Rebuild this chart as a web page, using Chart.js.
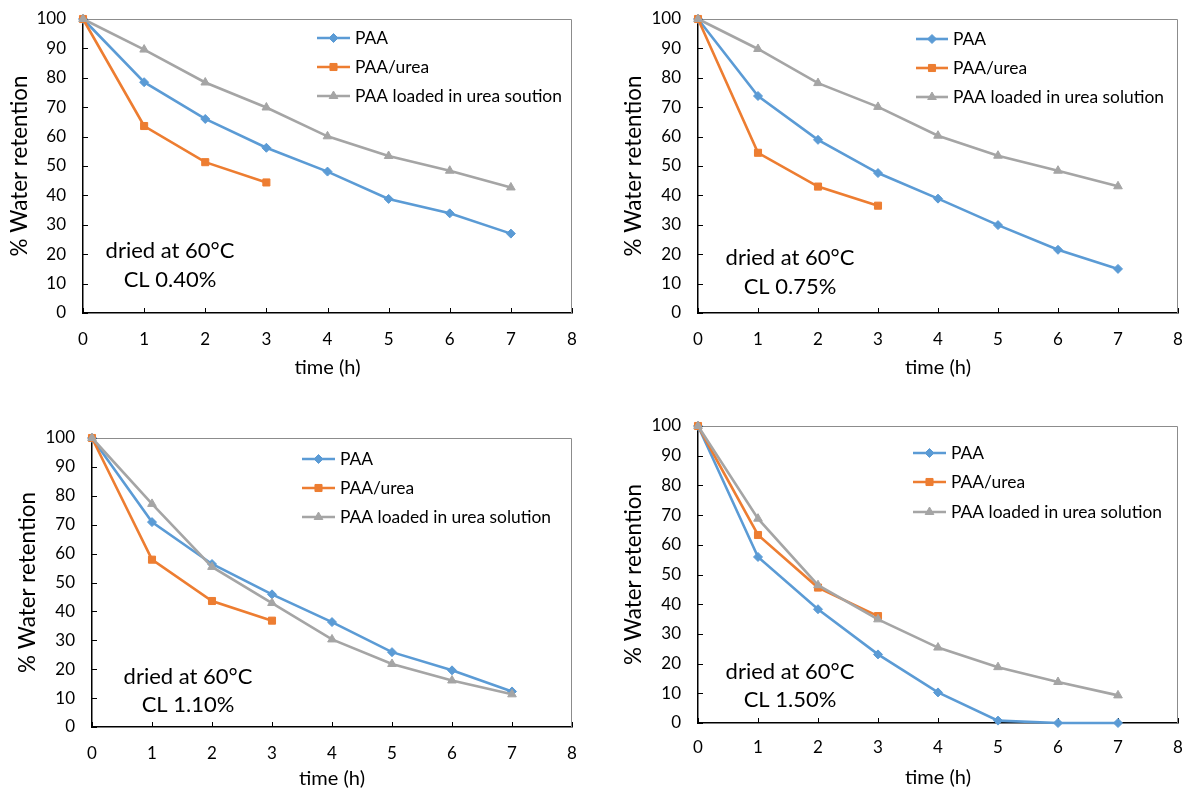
<!DOCTYPE html>
<html>
<head>
<meta charset="utf-8">
<script src="https://cdn.jsdelivr.net/npm/chart.js@4.4.0/dist/chart.umd.min.js"></script>
<style>
  body { margin: 0; background: #fff; width: 1184px; height: 791px; overflow: hidden; position: relative; }
  .box { position: absolute; }
</style>
</head>
<body>
<div class="box" style="left:0;top:0;width:590px;height:390px"><canvas id="c040"></canvas></div>
<div class="box" style="left:592px;top:0;width:592px;height:390px"><canvas id="c075"></canvas></div>
<div class="box" style="left:0;top:400px;width:590px;height:391px"><canvas id="c110"></canvas></div>
<div class="box" style="left:592px;top:400px;width:592px;height:391px"><canvas id="c150"></canvas></div>
<script>
// time axis (h)
var hours = [0, 1, 2, 3, 4, 5, 6, 7];
var ureaHours = [0, 1, 2, 3];

// CL 0.40%
var paa040 = [100, 78.5, 66, 56.2, 48.1, 38.8, 33.9, 27];
var urea040 = [100, 63.6, 51.3, 44.4];
var loaded040 = [100, 89.6, 78.4, 69.9, 60.1, 53.4, 48.4, 42.7];

// CL 0.75%
var paa075 = [100, 73.8, 58.9, 47.6, 38.9, 29.9, 21.5, 15];
var urea075 = [100, 54.5, 43, 36.5];
var loaded075 = [100, 89.8, 78.2, 70.1, 60.3, 53.5, 48.4, 43.1];

// CL 1.10%
var paa110 = [100, 70.9, 56.4, 45.9, 36.3, 25.9, 19.6, 12.3];
var urea110 = [100, 57.9, 43.6, 36.8];
var loaded110 = [100, 77.2, 55.4, 42.9, 30.3, 21.8, 16.1, 11.3];

// CL 1.50%
var paa150 = [100, 55.9, 38.3, 23.1, 10.3, 0.8, 0, 0];
var urea150 = [100, 63.3, 45.6, 36];
var loaded150 = [100, 68.8, 46.4, 34.9, 25.4, 18.8, 13.8, 9.3];

var seriesNames = ['PAA', 'PAA/urea', 'PAA loaded in urea solution'];
var seriesNamesTypo = ['PAA', 'PAA/urea', 'PAA loaded in urea soution'];

var FONT = 'Lato, "Open Sans", sans-serif';
Chart.defaults.font.family = FONT;
Chart.defaults.color = '#000';

function toPoints(xs, ys) {
    return ys.map(function(v, i) { return { x: xs[i], y: v }; });
}

// frame: thin gray top/right border plus inward tick marks
var framePlugin = {
    id: 'frame',
    beforeDatasetsDraw: function(chart) {
        var ctx = chart.ctx, a = chart.chartArea;
        var x = chart.scales.x, y = chart.scales.y;
        ctx.save();
        ctx.strokeStyle = '#8c8c8c';
        ctx.lineWidth = 1;
        ctx.beginPath();
        ctx.moveTo(a.left, a.top + 0.5);
        ctx.lineTo(a.right - 0.5, a.top + 0.5);
        ctx.lineTo(a.right - 0.5, a.bottom);
        ctx.stroke();
        ctx.strokeStyle = '#000';
        ctx.beginPath();
        x.ticks.forEach(function(t) {
            var px = Math.round(x.getPixelForValue(t.value)) + 0.5;
            ctx.moveTo(px, a.bottom);
            ctx.lineTo(px, a.bottom - 5);
        });
        y.ticks.forEach(function(t) {
            var py = Math.round(y.getPixelForValue(t.value)) + 0.5;
            ctx.moveTo(a.left, py);
            ctx.lineTo(a.left + 5, py);
        });
        ctx.stroke();
        ctx.restore();
    }
};

// legend inside the plot, Excel style
var legendPlugin = {
    id: 'sideLegend',
    afterDraw: function(chart, args, opts) {
        var ctx = chart.ctx;
        ctx.save();
        ctx.font = '17.4px ' + FONT;
        ctx.textBaseline = 'middle';
        chart.data.datasets.forEach(function(ds, i) {
            var yy = opts.rows[i];
            ctx.strokeStyle = ds.borderColor;
            ctx.lineWidth = ds.borderWidth;
            ctx.beginPath();
            ctx.moveTo(opts.x0, yy);
            ctx.lineTo(opts.x1, yy);
            ctx.stroke();
            ctx.fillStyle = ds.backgroundColor;
            ctx.lineWidth = 1;
            Chart.helpers.drawPoint(ctx, { pointStyle: ds.pointStyle, radius: ds.pointRadius, rotation: 0, borderWidth: 1 }, (opts.x0 + opts.x1) / 2, yy);
            ctx.fillStyle = '#000';
            ctx.fillText(ds.label, opts.tx, yy);
        });
        ctx.restore();
    }
};

// "dried at 60°C / CL x%" note
var notePlugin = {
    id: 'note',
    afterDraw: function(chart, args, opts) {
        var ctx = chart.ctx;
        ctx.save();
        ctx.font = '22px ' + FONT;
        ctx.textAlign = 'center';
        ctx.textBaseline = 'middle';
        ctx.fillStyle = '#000';
        opts.lines.forEach(function(t, i) {
            ctx.fillText(t, opts.x, opts.ys[i]);
        });
        ctx.restore();
    }
};

function makeChart(id, names, paa, urea, loaded, cl, lay) {
    var ctx = document.getElementById(id).getContext('2d');
    return new Chart(ctx, {
        type: 'line',
        data: {
            datasets: [{
                label: names[0],
                data: toPoints(hours, paa),
                borderColor: '#5b9bd5',
                backgroundColor: '#5b9bd5',
                borderWidth: 2.6,
                pointStyle: 'rectRot',
                pointRadius: 4.5,
                pointBorderWidth: 1,
                order: 2,
                clip: false
            }, {
                label: names[1],
                data: toPoints(ureaHours, urea),
                borderColor: '#ed7d31',
                backgroundColor: '#ed7d31',
                borderWidth: 2.6,
                pointStyle: 'rect',
                pointRadius: 5,
                pointBorderWidth: 1,
                order: 1,
                clip: false
            }, {
                label: names[2],
                data: toPoints(hours, loaded),
                borderColor: '#a5a5a5',
                backgroundColor: '#a5a5a5',
                borderWidth: 2.6,
                pointStyle: 'triangle',
                pointRadius: 5,
                pointBorderWidth: 1,
                order: 0,
                clip: false
            }]
        },
        options: {
            responsive: true,
            maintainAspectRatio: false,
            animation: false,
            layout: { autoPadding: false, padding: { top: lay.top, right: lay.right, left: 0, bottom: 0 } },
            scales: {
                x: {
                    type: 'linear',
                    min: 0,
                    max: 8,
                    ticks: { stepSize: 1, padding: lay.xPad, font: { size: 17 } },
                    grid: { display: false, drawTicks: false },
                    border: { color: '#000', width: 1.5 },
                    title: { display: true, text: 'time (h)', font: { size: 20 }, padding: { top: 0, bottom: lay.xTitle } },
                    afterFit: function(scale) {
                        scale.height = lay.xHeight;
                        scale.paddingLeft = 0;
                        scale.paddingRight = 0;
                    }
                },
                y: {
                    min: 0,
                    max: 100,
                    ticks: { stepSize: 10, padding: 17, font: { size: 17 } },
                    grid: { display: false, drawTicks: false },
                    border: { color: '#000', width: 1.5 },
                    title: { display: true, text: '% Water retention', font: { size: 22.4 }, padding: { top: lay.yTitle, bottom: 0 } },
                    afterFit: function(scale) {
                        scale.width = lay.yWidth;
                        scale.paddingTop = 0;
                        scale.paddingBottom = 0;
                    }
                }
            },
            plugins: {
                legend: { display: false },
                tooltip: { enabled: false },
                sideLegend: lay.legend,
                note: { x: lay.noteX, ys: lay.noteY, lines: ['dried at 60°C', 'CL ' + cl] }
            }
        },
        plugins: [framePlugin, legendPlugin, notePlugin]
    });
}

makeChart('c040', seriesNamesTypo, paa040, urea040, loaded040, '0.40%', {
    top: 19, right: 18, yWidth: 83, xHeight: 77, xPad: 16, xTitle: 10, yTitle: 6,
    legend: { x0: 317, x1: 350, tx: 355, rows: [38, 67, 96] },
    noteX: 170, noteY: [251, 280]
});
makeChart('c075', seriesNames, paa075, urea075, loaded075, '0.75%', {
    top: 19, right: 6, yWidth: 106, xHeight: 77, xPad: 16, xTitle: 10, yTitle: 28,
    legend: { x0: 324, x1: 356, tx: 361, rows: [39, 68, 97] },
    noteX: 198, noteY: [258, 287]
});
makeChart('c110', seriesNames, paa110, urea110, loaded110, '1.10%', {
    top: 38, right: 18, yWidth: 92, xHeight: 64, xPad: 16, xTitle: 0, yTitle: 14,
    legend: { x0: 302, x1: 335, tx: 340, rows: [59, 88, 117] },
    noteX: 188, noteY: [277, 305]
});
makeChart('c150', seriesNames, paa150, urea150, loaded150, '1.50%', {
    top: 26, right: 6, yWidth: 106, xHeight: 68, xPad: 14, xTitle: 1, yTitle: 28,
    legend: { x0: 321, x1: 354, tx: 359, rows: [53, 82, 112] },
    noteX: 198, noteY: [272, 300]
});
</script>
</body>
</html>
